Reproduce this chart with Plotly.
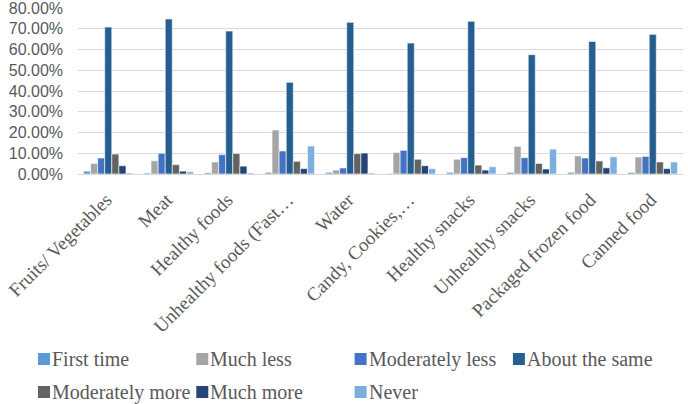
import plotly.graph_objects as go

categories = ["Fruits/ Vegetables", "Meat", "Healthy foods", "Unhealthy foods (Fast…",
              "Water", "Candy, Cookies,…", "Healthy snacks", "Unhealthy snacks",
              "Packaged frozen food", "Canned food"]

first_time        = [0.014, 0.005, 0.006, 0.008, 0.008, 0.003, 0.008, 0.008, 0.008, 0.008]
much_less         = [0.051, 0.064, 0.058, 0.212, 0.019, 0.104, 0.071, 0.133, 0.087, 0.082]
moderately_less   = [0.077, 0.100, 0.093, 0.111, 0.029, 0.114, 0.079, 0.079, 0.077, 0.085]
about_the_same    = [0.708, 0.747, 0.689, 0.442, 0.731, 0.631, 0.736, 0.575, 0.639, 0.673]
moderately_more   = [0.096, 0.045, 0.099, 0.061, 0.098, 0.071, 0.043, 0.051, 0.063, 0.058]
much_more         = [0.040, 0.014, 0.038, 0.026, 0.101, 0.040, 0.019, 0.024, 0.030, 0.026]
never             = [0.005, 0.011, 0.005, 0.135, 0.005, 0.026, 0.035, 0.120, 0.083, 0.058]

series_names = ["First time", "Much less", "Moderately less", "About the same",
                "Moderately more", "Much more", "Never"]
series_values = [first_time, much_less, moderately_less, about_the_same,
                 moderately_more, much_more, never]
colors = ["#5B9BD5", "#A5A5A5", "#4472C4", "#255E91", "#636363", "#264478", "#7CAFDD"]

W, H = 688, 404
ML, MR, MT, MB = 78, 5, 8, 230
PW, PH = W - ML - MR, H - MT - MB

def px_x(px):
    return (px - ML) / PW

def px_y(py):
    return (H - MB - py) / PH

fig = go.Figure()
for name, vals, col in zip(series_names, series_values, colors):
    fig.add_trace(go.Bar(
        x=categories, y=vals, name=name,
        marker=dict(color=col, line=dict(color="white", width=0.6)),
        showlegend=False,
    ))

# Legend drawn as a 4-column grid below the chart (Excel style: swatch right next to text)
legend_font = dict(family="Liberation Serif, Times New Roman, serif", size=20, color="#595959")
col_x0, col_step = 38, 158.3
row_y0, row_step = 359, 33
sw = 12
shapes, annotations = [], []
for i, (name, col) in enumerate(zip(series_names, colors)):
    r, c = divmod(i, 4)
    x0 = col_x0 + c * col_step
    yc = row_y0 + r * row_step
    shapes.append(dict(type="rect", xref="paper", yref="paper",
                       x0=px_x(x0), x1=px_x(x0 + sw),
                       y0=px_y(yc + sw / 2), y1=px_y(yc - sw / 2),
                       fillcolor=col, line=dict(width=0)))
    annotations.append(dict(xref="paper", yref="paper", x=px_x(x0 + sw + 1), y=px_y(yc),
                            xanchor="left", yanchor="middle", showarrow=False,
                            text=name, font=legend_font, borderpad=0))

fig.update_layout(
    width=W, height=H,
    margin=dict(l=ML, r=MR, t=MT, b=MB, autoexpand=False),
    paper_bgcolor="white", plot_bgcolor="white",
    barmode="group", bargap=0.18, bargroupgap=0.0,
    showlegend=False,
    shapes=shapes, annotations=annotations,
    xaxis=dict(
        tickangle=-45,
        tickfont=dict(family="Liberation Serif, Times New Roman, serif", size=19, color="#595959"),
        showgrid=False, showline=False, ticks="",
        ticklabelstandoff=10, ticklabelshift=-2,
    ),
    yaxis=dict(
        range=[0, 0.8001], dtick=0.1, tickformat=".2%",
        tickfont=dict(family="Liberation Sans, Arial, sans-serif", size=16, color="#595959"),
        showgrid=True, gridcolor="#D9D9D9", gridwidth=1,
        zeroline=True, zerolinecolor="#D9D9D9", zerolinewidth=1,
        showline=False, ticks="", ticklabelstandoff=14,
        ticklabeloverflow="allow",
    ),
)

fig.write_html("out.html", config={"displayModeBar": False},
               post_script="document.body.style.margin='0';")
